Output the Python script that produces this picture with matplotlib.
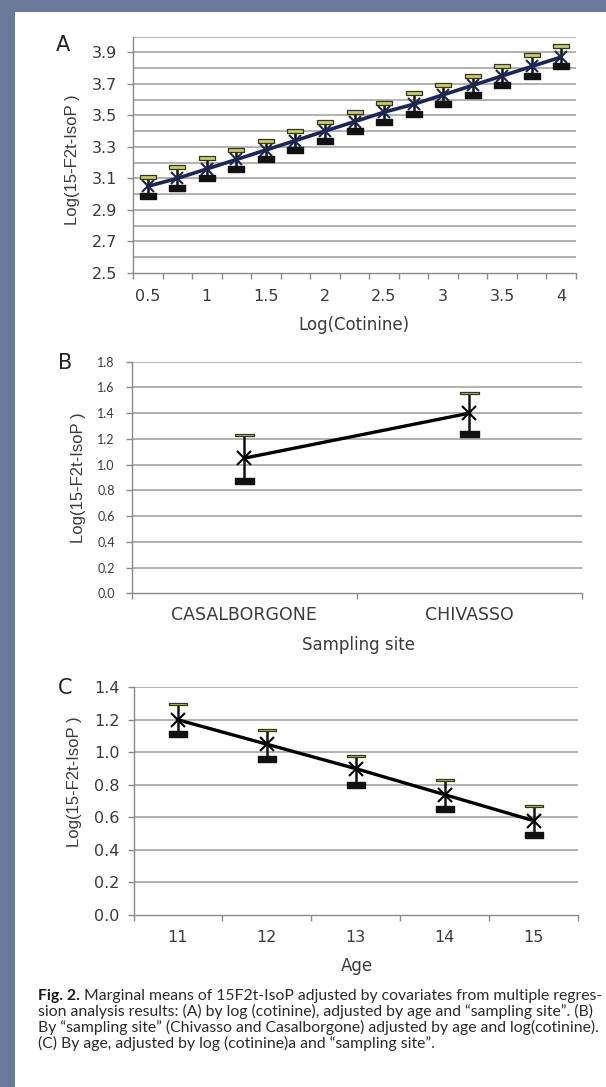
import matplotlib
matplotlib.use('Agg')
import matplotlib.pyplot as plt
from matplotlib.patches import Rectangle

W, H = 606, 1087

# ---------------- data ----------------
cotinine = [0.5, 0.75, 1.0, 1.25, 1.5, 1.75, 2.0, 2.25, 2.5, 2.75, 3.0, 3.25, 3.5, 3.75, 4.0]
cot_mean = [3.05, 3.10, 3.16, 3.22, 3.28, 3.34, 3.40, 3.46, 3.52, 3.57, 3.63, 3.69, 3.75, 3.81, 3.87]
cot_upper = [3.11, 3.17, 3.23, 3.28, 3.34, 3.40, 3.46, 3.52, 3.58, 3.64, 3.69, 3.75, 3.81, 3.88, 3.94]
cot_lower = [2.99, 3.04, 3.10, 3.16, 3.22, 3.28, 3.34, 3.40, 3.46, 3.51, 3.57, 3.63, 3.69, 3.75, 3.81]
cot_ticklabels = ['0.5', '1', '1.5', '2', '2.5', '3', '3.5', '4']

sites = ['CASALBORGONE', 'CHIVASSO']
site_mean = [1.05, 1.40]
site_upper = [1.23, 1.56]
site_lower = [0.87, 1.24]

ages = ['11', '12', '13', '14', '15']
age_mean = [1.20, 1.05, 0.90, 0.74, 0.58]
age_upper = [1.30, 1.14, 0.98, 0.83, 0.67]
age_lower = [1.11, 0.96, 0.80, 0.65, 0.49]

ylabel = 'Log(15-F2t-IsoP )'
caption_bold = 'Fig. 2.'
caption_lines = [
    ' Marginal means of 15F2t-IsoP adjusted by covariates from multiple regres-',
    'sion analysis results: (A) by log (cotinine), adjusted by age and \u201csampling site\u201d. (B)',
    'By \u201csampling site\u201d (Chivasso and Casalborgone) adjusted by age and log(cotinine).',
    '(C) By age, adjusted by log (cotinine)a and \u201csampling site\u201d.',
]

# ---------------- figure ----------------
WIDE = ['DejaVu Sans']
ARIAL = ['Liberation Sans', 'DejaVu Sans']
plt.rcParams['font.family'] = WIDE
fig = plt.figure(figsize=(W / 100, H / 100), dpi=100)
fig.patch.set_facecolor('#6b7998')
fig.patches.append(Rectangle((15 / W, 0), 1 - 15 / W, 1 - 12 / H, transform=fig.transFigure,
                             facecolor='white', edgecolor='none', zorder=-10))


def px_axes(x0, x1, y0, y1):
    return fig.add_axes([x0 / W, 1 - y1 / H, (x1 - x0) / W, (y1 - y0) / H])


def ftext(x, y, s, **kw):
    return fig.text(x / W, 1 - y / H, s, ha=kw.pop('ha', 'center'), va=kw.pop('va', 'center'), **kw)


def rect_marker(ratio):
    return [(-1, -ratio), (1, -ratio), (1, ratio), (-1, ratio), (-1, -ratio)]


GRID = '#9c9c9c'
SPINE = '#8a8a8a'
TXT = '#3a3a3a'


def style(ax, n_cat, pad):
    for s in ['top', 'right']:
        ax.spines[s].set_visible(False)
    for s in ['left', 'bottom']:
        ax.spines[s].set_color(SPINE)
        ax.spines[s].set_linewidth(1.0)
    ax.set_xlim(-0.5, n_cat - 0.5)
    ax.tick_params(axis='both', colors=SPINE, length=4, width=1.0, labelcolor=TXT)
    ax.tick_params(axis='y', pad=pad)
    ax.set_facecolor('none')


def draw_series(ax, xs, mean, upper, lower, lc, cap_px, up_ratio, lo_ratio, lw, xms):
    ms = cap_px * 0.72
    ax.vlines(xs, lower, upper, color='#111111', lw=1.8, zorder=3)
    ax.plot(xs, mean, color=lc, lw=lw, zorder=4, solid_capstyle='round')
    ax.plot(xs, mean, ls='none', marker='x', ms=xms, mew=1.5, color=lc, zorder=5)
    ax.plot(xs, upper, ls='none', marker=rect_marker(up_ratio), ms=ms,
            mfc='#c6cf66', mec='#35351a', mew=0.9, zorder=6)
    ax.plot(xs, lower, ls='none', marker=rect_marker(lo_ratio), ms=ms,
            mfc='#111111', mec='#111111', mew=1.0, zorder=6)


# ---------------- Panel A ----------------
axA = px_axes(133, 576, 36.5, 273)
style(axA, len(cotinine), 7.5)
xa = list(range(len(cotinine)))
axA.set_ylim(2.5, 4.0)
for v in [2.6, 2.7, 2.8, 2.9, 3.0, 3.1, 3.2, 3.3, 3.4, 3.5, 3.6, 3.7, 3.8, 3.9, 4.0]:
    axA.axhline(v, color=GRID, lw=1.1, zorder=1)
axA.set_yticks([2.5, 2.7, 2.9, 3.1, 3.3, 3.5, 3.7, 3.9])
axA.set_yticklabels(['2.5', '2.7', '2.9', '3.1', '3.3', '3.5', '3.7', '3.9'], fontsize=11.5)
axA.set_xticks([i - 0.5 for i in range(len(cotinine) + 1)])
axA.set_xticklabels([])
for i, lab in zip(range(0, len(cotinine), 2), cot_ticklabels):
    axA.text(i, -0.1, lab, transform=axA.get_xaxis_transform(), ha='center', va='center',
             fontsize=11.5, color=TXT)
draw_series(axA, xa, cot_mean, cot_upper, cot_lower, '#1c2556', 16, 0.2, 0.4, 2.6, 9)
ftext(63, 45, 'A', fontsize=15, color='#222222')
ftext(72, 160, ylabel, rotation=90, fontsize=12, family=ARIAL, color=TXT)
ftext(354, 325, 'Log(Cotinine)', fontsize=12, color=TXT)

# ---------------- Panel B ----------------
axB = px_axes(131.5, 582, 361.7, 593.3)
style(axB, len(sites), 8)
xb = list(range(len(sites)))
axB.set_ylim(0, 1.8)
for v in [0.2, 0.4, 0.6, 0.8, 1.0, 1.2, 1.4, 1.6, 1.8]:
    axB.axhline(v, color=GRID, lw=1.1, zorder=1)
axB.set_yticks([0.0, 0.2, 0.4, 0.6, 0.8, 1.0, 1.2, 1.4, 1.6, 1.8])
axB.set_yticklabels(['%.1f' % v for v in [0.0, 0.2, 0.4, 0.6, 0.8, 1.0, 1.2, 1.4, 1.6, 1.8]],
                    fontsize=9, family=['Lato', 'DejaVu Sans'])
axB.set_xticks([-0.5, 0.5, 1.5])
axB.set_xticklabels([])
for i, lab in zip(xb, sites):
    axB.text(i, -0.095, lab, transform=axB.get_xaxis_transform(), ha='center', va='center',
             fontsize=12.5, color=TXT)
draw_series(axB, xb, site_mean, site_upper, site_lower, 'black', 19, 0.14, 0.3, 2.4, 10)
ftext(65, 363, 'B', fontsize=15, color='#222222')
ftext(79, 478, ylabel, rotation=90, fontsize=12, family=ARIAL, color=TXT)
ftext(358, 645, 'Sampling site', fontsize=12, color=TXT)

# ---------------- Panel C ----------------
axC = px_axes(133.5, 578, 687.3, 915)
style(axC, len(ages), 6)
xc = list(range(len(ages)))
axC.set_ylim(0, 1.4)
for v in [0.2, 0.4, 0.6, 0.8, 1.0, 1.2, 1.4]:
    axC.axhline(v, color=GRID, lw=1.1, zorder=1)
axC.set_yticks([0.0, 0.2, 0.4, 0.6, 0.8, 1.0, 1.2, 1.4])
axC.set_yticklabels(['%.1f' % v for v in [0.0, 0.2, 0.4, 0.6, 0.8, 1.0, 1.2, 1.4]], fontsize=11.5)
axC.set_xticks([i - 0.5 for i in range(len(ages) + 1)])
axC.set_xticklabels([])
for i, lab in zip(xc, ages):
    axC.text(i, -0.1, lab, transform=axC.get_xaxis_transform(), ha='center', va='center',
             fontsize=11.5, color=TXT)
draw_series(axC, xc, age_mean, age_upper, age_lower, 'black', 18, 0.14, 0.3, 2.4, 10)
ftext(65, 688, 'C', fontsize=15, color='#222222')
ftext(74, 782, ylabel, rotation=90, fontsize=12, family=ARIAL, color=TXT)
ftext(357, 966, 'Age', fontsize=12, color=TXT)

# ---------------- Caption ----------------
cap_family = ['Lato', 'DejaVu Sans']
fs = 10
cap_y = [996, 1011.7, 1027.4, 1043]
tb = ftext(38, cap_y[0], caption_bold, ha='left', fontsize=fs, fontweight='bold',
           family=cap_family, color='#1a1a1a')
rest = [ftext(38, y, s, ha='left', fontsize=fs, family=cap_family, color='#2a2a2a')
        for y, s in zip(cap_y, caption_lines)]
fig.canvas.draw()
r = fig.canvas.get_renderer()
wb = tb.get_window_extent(r).width
w1 = rest[0].get_window_extent(r).width
scale = (601 - 38) / (wb + w1)
fs2 = min(fs * scale, 11.6)
tb.set_fontsize(fs2)
for t in rest:
    t.set_fontsize(fs2)
fig.canvas.draw()
wb = tb.get_window_extent(r).width
rest[0].set_x((38 + wb) / W)

fig.savefig('out.png', dpi=100, facecolor=fig.get_facecolor())
